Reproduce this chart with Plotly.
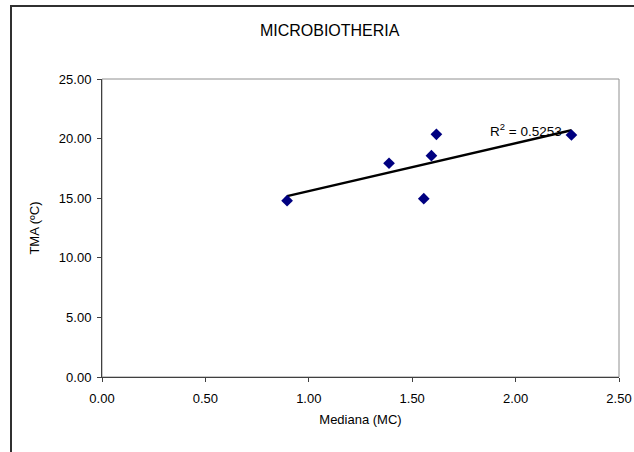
import numpy as np
import plotly.graph_objects as go

# Data
mediana_mc = [0.895, 1.388, 1.556, 1.593, 1.617, 2.270]
tma_c = [14.79, 17.93, 14.96, 18.57, 20.36, 20.30]
x_ticks = [0.0, 0.5, 1.0, 1.5, 2.0, 2.5]
y_ticks = [0, 5, 10, 15, 20, 25]
r2_label = "R<sup>2</sup> = 0.5253"
title_text = "MICROBIOTHERIA"

x = np.array(mediana_mc)
y = np.array(tma_c)
slope, intercept = np.polyfit(x, y, 1)
x_line = np.array([x.min(), x.max()])
y_line = slope * x_line + intercept

FONT = "Liberation Sans, Arial, sans-serif"

fig = go.Figure()
fig.add_trace(go.Scatter(
    x=x_line, y=y_line, mode="lines",
    line=dict(color="black", width=2.5),
    hoverinfo="skip", showlegend=False,
))
fig.add_trace(go.Scatter(
    x=mediana_mc, y=tma_c, mode="markers",
    marker=dict(symbol="diamond", size=9, color="#000080"),
    showlegend=False,
))

fig.update_layout(
    width=634, height=452,
    margin=dict(l=102, r=15, t=79, b=75),
    paper_bgcolor="white", plot_bgcolor="white",
    font=dict(family=FONT, size=13, color="black"),
    title=dict(text=title_text, x=0.52, xanchor="center", y=1 - 30 / 452,
               yanchor="middle", yref="container",
               font=dict(family=FONT, size=16, color="black")),
    xaxis=dict(
        range=[0, 2.5], tickvals=x_ticks, tickformat=".2f",
        showgrid=False, zeroline=False, showline=True, linecolor="#404040",
        linewidth=1, ticks="outside", ticklen=4, tickcolor="#404040",
        ticklabelstandoff=5, automargin=False,
        title=dict(text="Mediana (MC)", standoff=10, font=dict(size=13)),
        tickfont=dict(size=13),
    ),
    yaxis=dict(
        range=[0, 25], tickvals=y_ticks, tickformat=".2f",
        showgrid=False, zeroline=False, showline=True, linecolor="#404040",
        linewidth=1, ticks="outside", ticklen=4, tickcolor="#404040",
        ticklabelstandoff=3, automargin=False,
        title=dict(text="TMA (ºC)", standoff=16, font=dict(size=13)),
        tickfont=dict(size=13),
    ),
    shapes=[
        # plot-area border (top/right)
        dict(type="rect", xref="paper", yref="paper", x0=0, x1=1, y0=0, y1=1,
             line=dict(color="#909090", width=1), layer="below"),
        # chart-area border (cut off at right and bottom)
        dict(type="rect", xref="paper", yref="paper",
             x0=(11 - 102) / 517, x1=1.2, y0=-0.4, y1=(377 - 6) / 298,
             line=dict(color="#303030", width=2), layer="below"),
    ],
    annotations=[
        dict(text=r2_label, x=1.865, y=20.75, xref="x", yref="y",
             xanchor="left", yanchor="middle", showarrow=False,
             font=dict(family=FONT, size=13.5, color="black")),
    ],
)

fig.write_html(
    "out.html",
    config={"displayModeBar": False},
    post_script="document.body.style.margin='0';document.body.style.overflow='hidden';",
)
